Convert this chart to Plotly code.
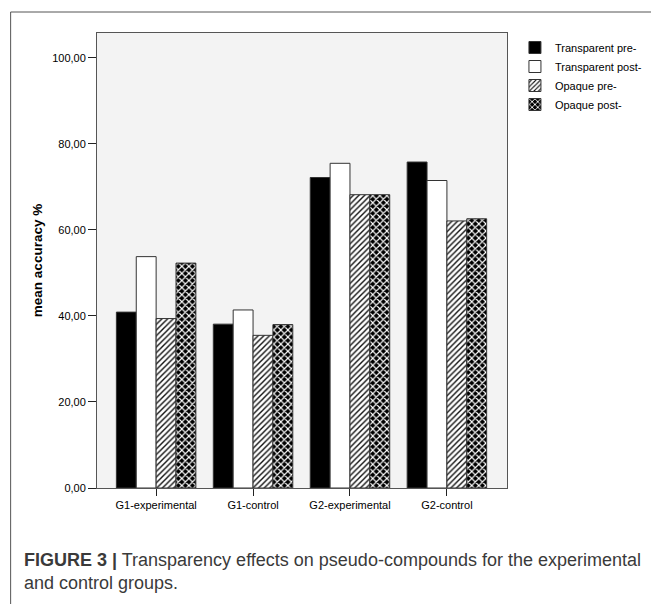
import plotly.graph_objects as go

groups = ["G1-experimental", "G1-control", "G2-experimental", "G2-control"]
transparent_pre = [40.9, 38.1, 72.2, 75.8]
transparent_post = [53.8, 41.4, 75.5, 71.5]
opaque_pre = [39.4, 35.5, 68.2, 62.1]
opaque_post = [52.3, 38.0, 68.2, 62.6]
y_ticks = [0, 20, 40, 60, 80, 100]

# page is offset by the default 8px body margin
OFF = 8
PAGE_W, PAGE_H = 659, 604
W, H = PAGE_W - OFF, PAGE_H - OFF
# plot area in page pixels: x 97..510, y 33..488
PL, PR, PT, PB = 97, 510, 33, 488
L, T = PL - OFF, PT - OFF
R, B = PAGE_W - PR, PAGE_H - PB
pw, ph = PR - PL, PB - PT

def px_x(p):
    return (p - PL) / pw

def px_y(p):
    return (PB - p) / ph

edge = dict(color="#333333", width=1)
fig = go.Figure()
fig.add_trace(go.Bar(name="Transparent pre-", x=groups, y=transparent_pre,
                     marker=dict(color="black", line=edge)))
fig.add_trace(go.Bar(name="Transparent post-", x=groups, y=transparent_post,
                     marker=dict(color="white", line=edge)))
fig.add_trace(go.Bar(name="Opaque pre-", x=groups, y=opaque_pre,
                     marker=dict(color="white", line=edge,
                                 pattern=dict(shape="/", fgcolor="#111111", bgcolor="white",
                                              size=4, solidity=0.35, fillmode="replace"))))
fig.add_trace(go.Bar(name="Opaque post-", x=groups, y=opaque_post,
                     marker=dict(color="black", line=edge,
                                 pattern=dict(shape="x", fgcolor="white", bgcolor="black",
                                              size=5, solidity=0.4, fillmode="replace"))))

fig.update_layout(
    width=W, height=H,
    margin=dict(l=L, r=R, t=T, b=B),
    barmode="group", bargap=0.18, bargroupgap=0,
    paper_bgcolor="white", plot_bgcolor="#f3f3f3",
    separators=",.",
    font=dict(family="Arial, Liberation Sans, sans-serif", size=11, color="black"),
    legend=dict(x=px_x(518), y=1.0, xanchor="left", yanchor="top",
                font=dict(size=11, color="black"), bgcolor="rgba(0,0,0,0)",
                tracegroupgap=0, itemwidth=30),
    xaxis=dict(range=[-0.61, 3.62], showline=True, linecolor="#555555", linewidth=1,
               mirror=True, ticks="outside", ticklen=7, tickcolor="#222222",
               showgrid=False, tickfont=dict(size=11, color="black")),
    yaxis=dict(range=[0, 105.8], tickvals=y_ticks, tickformat=".2f", showline=True,
               linecolor="#555555", linewidth=1, mirror=True, ticks="outside",
               ticklen=8, tickcolor="#222222", showgrid=False, zeroline=False,
               tickfont=dict(size=11, color="black"),
               title=dict(text="<b>mean accuracy %</b>", font=dict(size=13.5, color="black"),
                          standoff=6)),
    shapes=[
        dict(type="line", xref="paper", yref="paper", x0=px_x(10), x1=px_x(700),
             y0=px_y(12), y1=px_y(12), line=dict(color="#555555", width=1)),
        dict(type="line", xref="paper", yref="paper", x0=px_x(10), x1=px_x(10),
             y0=px_y(12), y1=px_y(640), line=dict(color="#555555", width=1)),
    ],
    annotations=[
        dict(xref="paper", yref="paper", x=px_x(21), y=px_y(548), xanchor="left",
             yanchor="top", align="left", showarrow=False,
             text="<b>FIGURE 3 |</b> Transparency effects on pseudo-compounds for the experimental<br>and control groups.",
             font=dict(size=18, color="#3a3a3a", family="Arial, Liberation Sans, sans-serif")),
    ],
)

fig.write_html("out.html")
